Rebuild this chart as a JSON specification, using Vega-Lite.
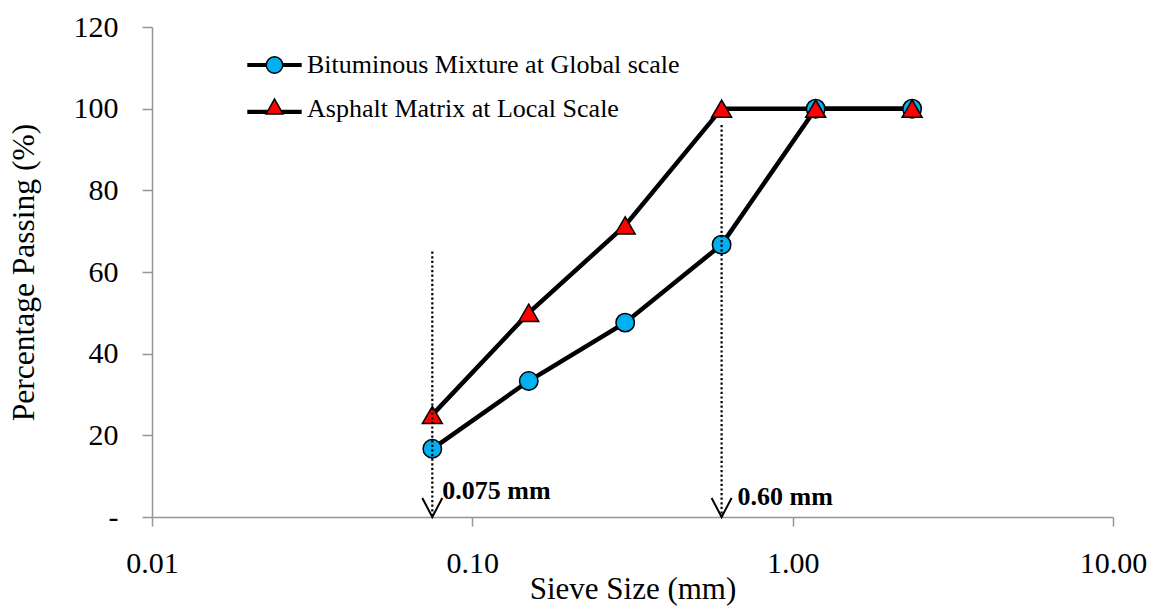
{
  "$schema": "https://vega.github.io/schema/vega-lite/v6.json",
  "width": 961,
  "height": 490,
  "autosize": {"type": "none"},
  "padding": {"left": 152, "top": 27, "right": 41, "bottom": 93},
  "background": "white",
  "config": {
    "view": {"stroke": null},
    "font": "Liberation Serif",
    "axis": {
      "labelFont": "Liberation Serif",
      "titleFont": "Liberation Serif",
      "labelColor": "black",
      "titleColor": "black",
      "titleFontWeight": "normal",
      "domainColor": "#959595",
      "tickColor": "#959595",
      "domainWidth": 1.5,
      "tickWidth": 1.5,
      "labelFlush": false,
      "labelOverlap": false,
      "grid": false
    },
    "legend": {"labelFont": "Liberation Serif", "labelColor": "black", "symbolStrokeWidth": 1.5}
  },
  "datasets": {
    "gradation": [
      {"series": "Bituminous Mixture at Global scale", "size": 0.075, "passing": 16.7},
      {"series": "Bituminous Mixture at Global scale", "size": 0.15, "passing": 33.3},
      {"series": "Bituminous Mixture at Global scale", "size": 0.3, "passing": 47.6},
      {"series": "Bituminous Mixture at Global scale", "size": 0.6, "passing": 66.7},
      {"series": "Bituminous Mixture at Global scale", "size": 1.18, "passing": 100},
      {"series": "Bituminous Mixture at Global scale", "size": 2.36, "passing": 100},
      {"series": "Asphalt Matrix at Local Scale", "size": 0.075, "passing": 25},
      {"series": "Asphalt Matrix at Local Scale", "size": 0.15, "passing": 50},
      {"series": "Asphalt Matrix at Local Scale", "size": 0.3, "passing": 71.4},
      {"series": "Asphalt Matrix at Local Scale", "size": 0.6, "passing": 100},
      {"series": "Asphalt Matrix at Local Scale", "size": 1.18, "passing": 100},
      {"series": "Asphalt Matrix at Local Scale", "size": 2.36, "passing": 100}
    ],
    "cutoffs": [
      {"size": 0.075, "passing": 65, "label": "0.075 mm"},
      {"size": 0.6, "passing": 96, "label": "0.60 mm"}
    ]
  },
  "layer": [
    {
      "data": {"name": "gradation"},
      "mark": {"type": "line", "color": "black", "strokeWidth": 4.5},
      "encoding": {
        "x": {
          "field": "size",
          "type": "quantitative",
          "title": "Sieve Size (mm)",
          "scale": {"type": "log", "domain": [0.01, 10]},
          "axis": {
            "values": [0.01, 0.1, 1, 10],
            "format": ".2f",
            "tickSize": 9,
            "labelPadding": 22,
            "labelFontSize": 30,
            "titleFontSize": 31,
            "titleY": 81,
            "titleBaseline": "alphabetic"
          }
        },
        "y": {
          "field": "passing",
          "type": "quantitative",
          "title": "Percentage Passing (%)",
          "scale": {"domain": [0, 120]},
          "axis": {
            "values": [0, 20, 40, 60, 80, 100, 120],
            "labelExpr": "datum.value == 0 ? '-' : datum.label",
            "tickSize": 10,
            "labelPadding": 24,
            "labelFontSize": 30,
            "titleFontSize": 31.5,
            "titleX": -119,
            "titleY": 245,
            "titleBaseline": "alphabetic"
          }
        },
        "detail": {"field": "series", "type": "nominal"},
        "order": {"field": "size", "type": "quantitative"}
      }
    },
    {
      "data": {"name": "gradation"},
      "transform": [{"filter": "datum.series === 'Bituminous Mixture at Global scale'"}],
      "mark": {"type": "point", "shape": "circle", "filled": true, "fill": "#00B0F0", "opacity": 1, "size": 340, "stroke": "black", "strokeWidth": 1.5},
      "encoding": {
        "x": {"field": "size", "type": "quantitative", "title": "Sieve Size (mm)"},
        "y": {"field": "passing", "type": "quantitative", "title": "Percentage Passing (%)"}
      }
    },
    {
      "data": {"name": "gradation"},
      "transform": [{"filter": "datum.series === 'Asphalt Matrix at Local Scale'"}],
      "mark": {"type": "point", "shape": "triangle-up", "filled": true, "fill": "#FF0000", "opacity": 1, "size": 400, "stroke": "black", "strokeWidth": 1.5},
      "encoding": {
        "x": {"field": "size", "type": "quantitative", "title": "Sieve Size (mm)"},
        "y": {"field": "passing", "type": "quantitative", "title": "Percentage Passing (%)"}
      }
    },
    {
      "data": {"name": "gradation"},
      "transform": [{"filter": "false"}],
      "mark": {"type": "point", "filled": true, "opacity": 1, "stroke": "black", "strokeWidth": 1.5},
      "encoding": {
        "x": {"field": "size", "type": "quantitative", "title": "Sieve Size (mm)"},
        "y": {"field": "passing", "type": "quantitative", "title": "Percentage Passing (%)"},
        "shape": {
          "field": "series",
          "type": "nominal",
          "scale": {
            "domain": ["Bituminous Mixture at Global scale", "Asphalt Matrix at Local Scale"],
            "range": [
              "M-3.2,-0.16H-0.97M-3.2,0H-0.97M-3.2,0.16H-0.97M0.97,-0.16H3.2M0.97,0H3.2M0.97,0.16H3.2M-0.97,0A0.97,0.97,0,1,1,0.97,0A0.97,0.97,0,1,1,-0.97,0Z",
              "M-3.2,0.19H-0.86M-3.2,0.35H-0.86M-3.2,0.51H-0.9M0.86,0.19H3.2M0.86,0.35H3.2M0.9,0.51H3.2M0,-1.18L1,0.59L-1,0.59Z"
            ]
          },
          "legend": {
            "title": null,
            "orient": "none",
            "legendX": 109.5,
            "legendY": 25,
            "padding": 0,
            "rowPadding": 17,
            "labelOffset": 19.5,
            "labelFontSize": 26,
            "labelLimit": 0,
            "symbolSize": 289,
            "symbolOpacity": 1
          }
        },
        "fill": {
          "field": "series",
          "type": "nominal",
          "scale": {
            "domain": ["Bituminous Mixture at Global scale", "Asphalt Matrix at Local Scale"],
            "range": ["#00B0F0", "#FF0000"]
          },
          "legend": {
            "title": null,
            "orient": "none",
            "legendX": 109.5,
            "legendY": 25,
            "padding": 0,
            "rowPadding": 17,
            "labelOffset": 19.5,
            "labelFontSize": 26,
            "labelLimit": 0,
            "symbolSize": 289,
            "symbolOpacity": 1
          }
        }
      }
    },
    {
      "data": {"name": "cutoffs"},
      "mark": {"type": "rule", "color": "black", "strokeWidth": 2.2, "strokeDash": [2.2, 2.4]},
      "encoding": {
        "x": {"field": "size", "type": "quantitative", "title": "Sieve Size (mm)"},
        "y": {"field": "passing", "type": "quantitative", "title": "Percentage Passing (%)"},
        "y2": {"datum": 0}
      }
    },
    {
      "data": {"name": "cutoffs"},
      "mark": {"type": "point", "shape": "M-1,-1.9L0,0L1,-1.9", "size": 400, "filled": false, "stroke": "black", "strokeWidth": 2, "opacity": 1},
      "encoding": {
        "x": {"field": "size", "type": "quantitative", "title": "Sieve Size (mm)"},
        "y": {"datum": 0}
      }
    },
    {
      "data": {"name": "cutoffs"},
      "transform": [{"filter": "datum.size < 0.1"}],
      "mark": {"type": "text", "align": "left", "baseline": "alphabetic", "font": "Liberation Serif", "fontSize": 26, "fontWeight": "bold", "color": "black", "dx": 10, "dy": -18},
      "encoding": {
        "x": {"field": "size", "type": "quantitative", "title": "Sieve Size (mm)"},
        "y": {"datum": 0},
        "text": {"field": "label"}
      }
    },
    {
      "data": {"name": "cutoffs"},
      "transform": [{"filter": "datum.size > 0.1"}],
      "mark": {"type": "text", "align": "left", "baseline": "alphabetic", "font": "Liberation Serif", "fontSize": 26, "fontWeight": "bold", "color": "black", "dx": 16, "dy": -12},
      "encoding": {
        "x": {"field": "size", "type": "quantitative", "title": "Sieve Size (mm)"},
        "y": {"datum": 0},
        "text": {"field": "label"}
      }
    }
  ]
}
